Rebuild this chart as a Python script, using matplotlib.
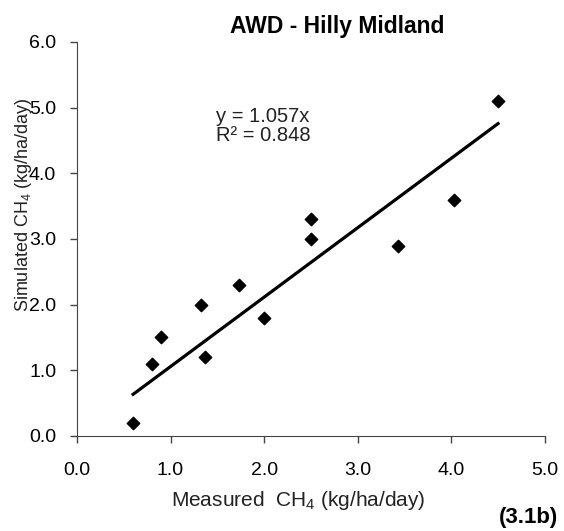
import matplotlib
matplotlib.use('Agg')
import matplotlib.pyplot as plt
import numpy as np

plt.rcParams['font.family'] = ['Liberation Sans', 'DejaVu Sans']

# measured vs simulated CH4 (kg/ha/day)
measured = [0.6, 0.8, 0.9, 1.33, 1.37, 1.73, 2.0, 2.5, 2.5, 3.43, 4.03, 4.5]
simulated = [0.2, 1.1, 1.5, 2.0, 1.2, 2.3, 1.8, 3.3, 3.0, 2.9, 3.6, 5.1]
slope = 1.057
r2 = 0.848
xticks = [0, 1, 2, 3, 4, 5]
yticks = [0, 1, 2, 3, 4, 5, 6]

fig = plt.figure(figsize=(5.64, 5.31), dpi=100)
ax = fig.add_axes([0.1365, 0.179, 0.8295, 0.742])

ax.scatter(measured, simulated, marker='D', s=40, color='black', zorder=3)

# trend line through origin
xl = np.array([min(measured), max(measured)])
ax.plot(xl, slope * xl, color='black', lw=2.3)

ax.set_xlim(0, 5)
ax.set_ylim(0, 6)
ax.set_xticks(xticks)
ax.set_yticks(yticks)
ax.set_xticklabels(['%.1f' % v for v in xticks], fontsize=14)
ax.set_yticklabels(['%.1f' % v for v in yticks], fontsize=14)
ax.tick_params(direction='out', length=5, color='#444444', width=1)
ax.tick_params(axis='x', pad=14)
ax.tick_params(axis='y', pad=10)
for s in ['top', 'right']:
    ax.spines[s].set_visible(False)
for s in ['left', 'bottom']:
    ax.spines[s].set_color('#444444')

ax.set_xlabel('Measured  CH$_\\mathregular{4}$ (kg/ha/day)', fontsize=15, color='#222222')
ax.set_ylabel('Simulated CH$_\\mathregular{4}$ (kg/ha/day)', fontsize=13, color='#222222')
ax.xaxis.set_label_coords(0.473, -0.135)
ax.yaxis.set_label_coords(-0.092, 0.586)

fig.text(337 / 564, 1 - 26 / 531, 'AWD - Hilly Midland', fontsize=16.5,
         fontweight='bold', ha='center', va='center')

ax.text(1.49, 4.72, 'y = %.3fx\nR² = %.3f' % (slope, r2), fontsize=14.5,
        va='center', ha='left', linespacing=1.0, color='#222222')

fig.text(558 / 564, 1 - 517 / 531, '(3.1b)', fontsize=16, fontweight='bold',
         ha='right', va='center')

fig.savefig('out.png', dpi=100)
